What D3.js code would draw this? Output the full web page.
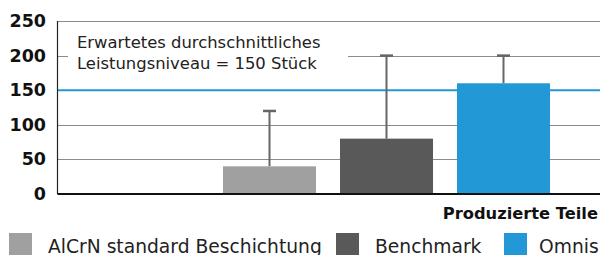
<!DOCTYPE html>
<html>
<head>
<meta charset="utf-8">
<script src="https://cdn.jsdelivr.net/npm/d3@7"></script>
<style>
  body { margin: 0; background: #fff; }
  svg { display: block; font-family: "DejaVu Sans", sans-serif; }
</style>
</head>
<body>
<div id="chart"></div>
<script>
// chart data
var categories = ["AlCrN standard Beschichtung", "Benchmark", "Omnis"];
var values = [40, 80, 160];
var errorTops = [120, 200, 200];
var colors = ["#a0a0a0", "#595959", "#2299d6"];
var yTicks = [0, 50, 100, 150, 200, 250];
var refValue = 150;
var noteLines = ["Erwartetes durchschnittliches", "Leistungsniveau = 150 Stück"];

var width = 600, height = 255;

var svg = d3.select("#chart").append("svg")
    .attr("width", width)
    .attr("height", height);

var x0 = 57.5, x1 = 600;

var y = d3.scaleLinear()
    .domain([0, 250])
    .range([194, 21]);

var x = d3.scaleBand()
    .domain(categories)
    .range([211, 562])
    .paddingInner(0.205)
    .paddingOuter(0.1025);

// gridlines
svg.selectAll("line.grid")
    .data(yTicks.filter(function(d) { return d > 0; }))
    .enter()
    .append("line")
    .attr("class", "grid")
    .attr("x1", x0)
    .attr("x2", x1)
    .attr("y1", function(d) { return Math.round(y(d)) + 0.5; })
    .attr("y2", function(d) { return Math.round(y(d)) + 0.5; })
    .attr("stroke", "#8c8c8c")
    .attr("stroke-width", 1);

// annotation box covers the grid
svg.append("rect")
    .attr("x", 68)
    .attr("y", 28)
    .attr("width", 280)
    .attr("height", 50)
    .attr("fill", "#fff");

svg.selectAll("text.note")
    .data(noteLines)
    .enter()
    .append("text")
    .attr("class", "note")
    .attr("x", 77)
    .attr("y", function(d, i) { return 48 + i * 21; })
    .style("font-size", "16.4px")
    .style("fill", "#222")
    .text(function(d) { return d; });

// reference line
svg.append("line")
    .attr("x1", x0)
    .attr("x2", x1)
    .attr("y1", y(refValue))
    .attr("y2", y(refValue))
    .attr("stroke", "#2299d6")
    .attr("stroke-width", 2);

// error bars
var errs = svg.selectAll("g.err")
    .data(categories)
    .enter()
    .append("g")
    .attr("class", "err");

errs.append("line")
    .attr("x1", function(d) { return x(d) + x.bandwidth() / 2; })
    .attr("x2", function(d) { return x(d) + x.bandwidth() / 2; })
    .attr("y1", function(d, i) { return y(errorTops[i]); })
    .attr("y2", function(d, i) { return y(values[i]); })
    .attr("stroke", "#666")
    .attr("stroke-width", 2);

errs.append("line")
    .attr("x1", function(d) { return x(d) + x.bandwidth() / 2 - 6.5; })
    .attr("x2", function(d) { return x(d) + x.bandwidth() / 2 + 6.5; })
    .attr("y1", function(d, i) { return y(errorTops[i]); })
    .attr("y2", function(d, i) { return y(errorTops[i]); })
    .attr("stroke", "#666")
    .attr("stroke-width", 2.5);

// bars
svg.selectAll("rect.bar")
    .data(categories)
    .enter()
    .append("rect")
    .attr("class", "bar")
    .attr("x", function(d) { return x(d); })
    .attr("width", x.bandwidth())
    .attr("y", function(d, i) { return y(values[i]); })
    .attr("height", function(d, i) { return y(0) - y(values[i]); })
    .attr("fill", function(d, i) { return colors[i]; });

// axes
svg.append("line")
    .attr("x1", x0).attr("x2", x0)
    .attr("y1", y(250)).attr("y2", y(0))
    .attr("stroke", "#222").attr("stroke-width", 1.2);

svg.append("line")
    .attr("x1", x0).attr("x2", x1)
    .attr("y1", y(0)).attr("y2", y(0))
    .attr("stroke", "#111").attr("stroke-width", 2);

svg.selectAll("text.ytick")
    .data(yTicks)
    .enter()
    .append("text")
    .attr("class", "ytick")
    .attr("x", 46)
    .attr("y", function(d) { return y(d) + 6; })
    .attr("text-anchor", "end")
    .style("font-size", "17.5px")
    .style("font-weight", "bold")
    .style("fill", "#111")
    .text(function(d) { return d; });

svg.append("text")
    .attr("x", 598)
    .attr("y", 219)
    .attr("text-anchor", "end")
    .style("font-size", "16.3px")
    .style("font-weight", "bold")
    .style("fill", "#111")
    .text("Produzierte Teile");

// legend
var legendX = [9, 336, 504];
var legendTextDx = [39, 39, 35];
var leg = svg.selectAll("g.legend")
    .data(categories)
    .enter()
    .append("g")
    .attr("class", "legend")
    .attr("transform", function(d, i) { return "translate(" + legendX[i] + ",233)"; });

leg.append("rect")
    .attr("width", 23)
    .attr("height", 23)
    .attr("fill", function(d, i) { return colors[i]; });

leg.append("text")
    .attr("x", function(d, i) { return legendTextDx[i]; })
    .attr("y", 19.5)
    .style("font-size", "18.7px")
    .style("fill", "#222")
    .text(function(d) { return d; });
</script>
</body>
</html>
